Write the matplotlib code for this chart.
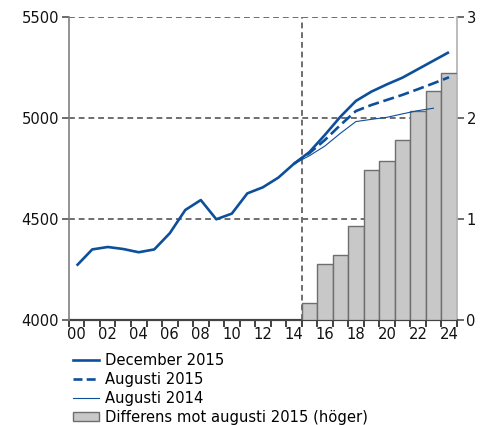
import matplotlib
matplotlib.use("Agg")
import matplotlib.pyplot as plt
from matplotlib.patches import Patch
from matplotlib.lines import Line2D
from matplotlib.ticker import FixedLocator
import numpy as np

years = list(range(2000, 2025))
dec2015 = [4269, 4349, 4361, 4351, 4335, 4349, 4429, 4544, 4593, 4498, 4526, 4626,
           4656, 4704, 4772, 4830, 4915, 5005, 5083, 5129, 5165, 5198, 5240, 5282, 5324]
aug2015_years = list(range(2014, 2025))
aug2015 = [4772, 4825, 4890, 4964, 5033, 5063, 5088, 5113, 5141, 5170, 5200]
aug2014_years = list(range(2014, 2024))
aug2014 = [4772, 4812, 4860, 4923, 4981, 4992, 5002, 5019, 5035, 5047]
diff_years = list(range(2015, 2025))
diff = [0.17, 0.55, 0.64, 0.93, 1.48, 1.57, 1.78, 2.07, 2.26, 2.44]
tick_labels = ["00", "02", "04", "06", "08", "10", "12", "14", "16", "18", "20", "22", "24"]
labels = ["December 2015", "Augusti 2015", "Augusti 2014", "Differens mot augusti 2015 (höger)"]

BLUE = "#0d4f9a"
GRID = "#6e6e6e"
FS = 10.6
GRID_LS = (0, (3.0, 2.0))

plt.rcParams['font.family'] = ['DejaVu Sans']
fig = plt.figure(figsize=(4.89, 4.25), dpi=100)
ax2 = fig.add_axes([0.141, 0.247, 0.793, 0.714])
ax = ax2.twinx()
ax2.yaxis.tick_right()
ax.yaxis.tick_left()
ax.xaxis.set_visible(False)
ax.set_zorder(ax2.get_zorder() + 1)
ax.patch.set_visible(False)

x0 = years[0]
def pos(ys):
    return [y - x0 for y in ys]

# bars on ax2 (right axis)
ax2.bar(pos(diff_years), diff, width=1.0, color="#c8c8c8", edgecolor="#6e6e6e",
        linewidth=1.0, zorder=3)
ax2.set_ylim(0, 3)
ax2.set_yticks([0, 1, 2, 3])
ax2.set_axisbelow(True)
ax2.yaxis.grid(True, color=GRID, linestyle=GRID_LS, linewidth=1.4, zorder=0)
ax2.axvline(14.5, color=GRID, linestyle=GRID_LS, linewidth=1.4, zorder=1)

# lines on ax (left axis)
ax.plot(pos(years), dec2015, color=BLUE, lw=1.9, solid_capstyle='butt', zorder=5)
ax.plot(pos(aug2015_years), aug2015, color=BLUE, lw=1.9, linestyle=(0, (4.2, 1.8)), zorder=4)
ax.plot(pos(aug2014_years), aug2014, color=BLUE, lw=0.8, zorder=4)
ax.set_ylim(4000, 5500)
ax.set_yticks([4000, 4500, 5000, 5500])

for a in (ax, ax2):
    a.set_xlim(-0.5, len(years) - 0.5)

ax2.xaxis.set_major_locator(FixedLocator(np.arange(0, len(years), 2)))
ax2.set_xticklabels(tick_labels)
ax2.xaxis.set_minor_locator(FixedLocator(np.arange(-0.5, len(years), 1)))
ax2.tick_params(axis='x', which='major', length=0, pad=5, labelsize=FS, colors='#111111')
ax2.tick_params(axis='x', which='minor', direction='out', length=5, width=1.3,
                color='#333333', bottom=True)
ax2.tick_params(axis='y', length=5, width=1.1, color='#444444', labelsize=FS,
                labelcolor='#111111', pad=2)
ax.tick_params(axis='y', length=5, width=1.1, color='#444444', labelsize=FS,
               labelcolor='#111111', pad=2)

for a in (ax, ax2):
    a.spines['top'].set_visible(False)
ax.spines['left'].set_color('#808080')
ax.spines['left'].set_linewidth(1.2)
ax.spines['right'].set_visible(False)
ax.spines['bottom'].set_visible(False)
ax2.spines['left'].set_visible(False)
ax2.spines['right'].set_color('#b0b0b0')
ax2.spines['right'].set_linewidth(1.2)
ax2.spines['bottom'].set_color('#444444')
ax2.spines['bottom'].set_linewidth(1.6)

handles = [
    Line2D([], [], color=BLUE, lw=1.9),
    Line2D([], [], color=BLUE, lw=1.9, linestyle=(0, (3.4, 1.6))),
    Line2D([], [], color=BLUE, lw=0.8),
    Patch(facecolor="#c8c8c8", edgecolor="#6e6e6e", linewidth=1.0),
]
fig.legend(handles, labels, loc='upper left', bbox_to_anchor=(0.149, 0.170),
           frameon=False, fontsize=FS, handlelength=1.75, handletextpad=0.4,
           labelspacing=0.27, borderpad=0, borderaxespad=0, handleheight=0.55)

fig.savefig("out.png", dpi=100)
